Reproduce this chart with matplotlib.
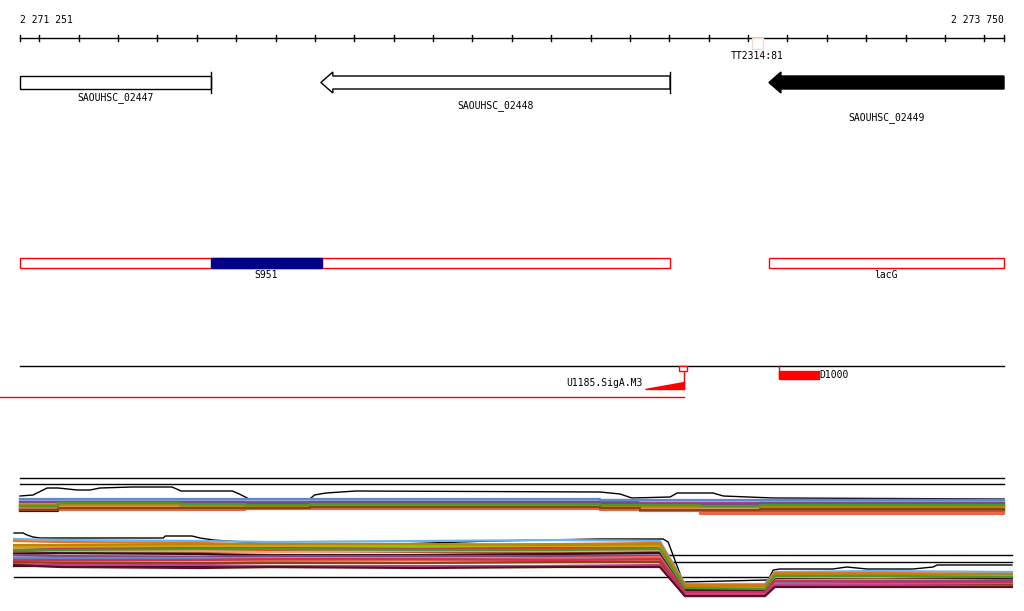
import matplotlib
matplotlib.use("Agg")
import matplotlib.pyplot as plt
from matplotlib.patches import Polygon, Rectangle

# ---- data ---------------------------------------------------------------
VIEW_START, VIEW_END = 2271251, 2273750
RULER_TICKS = list(range(2271300, 2273701, 100))

GENE_NAMES = ['SAOUHSC_02447', 'SAOUHSC_02448', 'SAOUHSC_02449']
GENE_START = [2271251, 2272015, 2273153]
GENE_END = [2271736, 2272902, 2273750]
GENE_STRAND = ['+', '-', '-']
GENE_FILLED = [False, False, True]
GENE_LABEL_Y = [98, 106, 118]

REGION_NAMES = ['S951', 'lacG']
REGION_START = [2271251, 2273153]
REGION_END = [2272902, 2273750]
S951_START, S951_END = 2271736, 2272018

TERM_NAME, TERM_START, TERM_END = 'TT2314:81', 2273110, 2273138
PROM_NAME, PROM_START, PROM_END = 'U1185.SigA.M3', 2272838, 2272937
TSS_NAME, TSS_START, TSS_END = 'D1000', 2273179, 2273280

# expression profiles, top panel (forward strand)
TOP_X = [2271251, 2271348, 2271657, 2271822, 2271987, 2272724, 2272826,
         2272978, 2273130, 2273750]
TOP_ENV_X = [2271251, 2271284, 2271320, 2271348, 2271396, 2271429, 2271454,
             2271536, 2271637, 2271660, 2271790, 2271808, 2271833, 2271987,
             2271999, 2272028, 2272104, 2272724, 2272775, 2272805, 2272902,
             2272920, 2273011, 2273037, 2273164, 2273750]
TOP_ENV = [24, 25, 32, 32, 30, 30, 32, 33, 33, 29, 29, 26, 21, 21, 25, 27,
           29, 28, 26, 22, 23, 27, 27, 24, 22, 21]
TOP_REF = [42, 36]
TOP_PROFILES = [
    [19, 20, 20, 19, 19, 19, 18, 18, 19, 19],
    [12, 14, 15, 16, 15, 15, 13, 12, 13, 13],
    [15, 17, 18, 17, 17, 17, 16, 10, 11, 12],
    [13, 16, 17, 16, 16, 16, 14, 15, 14, 14],
    [17, 16, 17, 18, 17, 18, 17, 17, 16, 16],
    [10, 13, 14, 14, 15, 14, 12, 9, 10, 10],
    [11, 12, 13, 13, 14, 13, 11, 8, 8, 9],
    [20, 19, 19, 20, 20, 20, 19, 19, 20, 19],
    [9, 14, 15, 15, 16, 15, 14, 13, 14, 13],
    [14, 13, 12, 13, 13, 12, 11, 11, 12, 11],
    [16, 15, 16, 15, 14, 16, 15, 14, 15, 15],
    [18, 18, 18, 17, 18, 17, 16, 16, 17, 17],
    [13, 11, 11, 12, 12, 11, 10, 7, 7, 8],
    [21, 21, 21, 21, 21, 20, 20, 20, 20, 20],
    [15, 15, 14, 14, 15, 14, 13, 13, 13, 14],
    [11, 10, 10, 11, 11, 10, 9, 6, 6, 7],
    [14, 17, 16, 15, 16, 15, 15, 14, 15, 15],
    [10, 12, 12, 12, 13, 12, 10, 10, 11, 10],
]

# expression profiles, bottom panel (reverse strand)
BOT_X = [2271236, 2271353, 2271708, 2271886, 2272267, 2272622, 2272876,
         2272940, 2273143, 2273168, 2273435, 2273770]
BOT_ENV_X = [2271236, 2271259, 2271269, 2271284, 2271302, 2271615, 2271620,
             2271688, 2271708, 2271742, 2271777, 2271818, 2271861, 2271879,
             2272216, 2272445, 2272724, 2272884, 2272897, 2272935, 2273151,
             2273164, 2273181, 2273315, 2273351, 2273402, 2273519, 2273570,
             2273580, 2273770]
BOT_ENV = [67, 67, 65, 63, 62, 62, 64, 64, 62, 60, 59, 58, 57, 56, 56, 59,
           61, 61, 58, 18, 20, 30, 31, 31, 33, 31, 31, 33, 35, 35]
BOT_REF = [45, 38, 23]
BOT_PROFILES = [
    [61, 60, 59, 58, 59, 60, 59, 16, 16, 28, 29, 28],
    [59, 58, 57, 55, 55, 56, 57, 15, 15, 27, 27, 26],
    [54, 53, 52, 51, 52, 53, 54, 12, 12, 24, 24, 23],
    [52, 52, 54, 53, 53, 54, 55, 13, 13, 26, 25, 25],
    [50, 51, 52, 52, 51, 52, 52, 11, 10, 23, 22, 23],
    [48, 47, 48, 49, 48, 47, 48, 10, 10, 21, 22, 21],
    [49, 50, 50, 50, 50, 51, 52, 14, 14, 25, 25, 24],
    [43, 44, 44, 43, 43, 44, 45, 9, 9, 20, 20, 19],
    [46, 47, 46, 45, 45, 46, 47, 10, 10, 22, 23, 22],
    [51, 49, 49, 48, 49, 49, 50, 12, 12, 23, 23, 24],
    [53, 54, 54, 54, 55, 54, 54, 13, 13, 25, 26, 25],
    [45, 44, 43, 44, 44, 44, 44, 8, 8, 19, 19, 19],
    [41, 41, 42, 41, 41, 42, 43, 7, 7, 18, 18, 17],
    [42, 42, 41, 40, 40, 40, 41, 7, 6, 18, 17, 17],
    [55, 55, 56, 56, 56, 55, 56, 14, 14, 26, 26, 26],
    [39, 39, 40, 39, 40, 39, 40, 6, 6, 16, 16, 16],
    [50, 50, 51, 51, 50, 50, 51, 12, 11, 24, 24, 23],
    [38, 37, 37, 37, 37, 38, 38, 5, 5, 15, 15, 15],
    [34, 34, 33, 33, 33, 34, 34, 4, 4, 14, 14, 14],
    [36, 35, 35, 34, 34, 34, 35, 5, 5, 15, 15, 14],
    [35, 33, 32, 33, 32, 33, 33, 4, 4, 13, 13, 13],
    [40, 40, 40, 41, 41, 40, 41, 8, 8, 19, 18, 18],
]

PROFILE_COLORS = ['#6ab4f0', '#e8741e', '#8c8c14', '#66dd00', '#c8287c',
                  '#a0522d', '#e03c28', '#a8a8d8', '#3c0a1e', '#f0a070',
                  '#d4a010', '#7a4a8a', '#ff6347', '#5a8ad0', '#b8860b',
                  '#dc6a50', '#4a9a2a', '#8b4513', '#300018', '#c04090',
                  '#5a1020', '#d03050']

# ---- layout ---------------------------------------------------------------
W, H = 1024, 611
BP_PER_PX = (VIEW_END - VIEW_START) / 984.0
XLIM = (VIEW_START - 20 * BP_PER_PX, VIEW_END + 20 * BP_PER_PX)
FONT = dict(family='DejaVu Sans Mono', fontsize=7, color='black')

fig = plt.figure(figsize=(W / 100, H / 100), dpi=100)
ax = fig.add_axes([0, 0, 1, 1])
ax.set_xlim(*XLIM)
ax.set_ylim(H, 0)
ax.axis('off')

# ruler
ax.plot([VIEW_START, VIEW_END], [38, 38], color='black', lw=1)
for t in [VIEW_START] + RULER_TICKS + [VIEW_END]:
    ax.plot([t, t], [35, 41], color='black', lw=1)
ax.text(VIEW_START, 20, f"{VIEW_START:,}".replace(',', ' '), ha='left', va='center', **FONT)
ax.text(VIEW_END, 20, f"{VIEW_END:,}".replace(',', ' '), ha='right', va='center', **FONT)
ax.add_patch(Rectangle((TERM_START, 38), TERM_END - TERM_START, 11,
                       facecolor='white', edgecolor='#f8d8d0', lw=1, zorder=3))
ax.text((TERM_START + TERM_END) / 2, 56, TERM_NAME, ha='center', va='center', **FONT)

# genes
head = 12 * BP_PER_PX
for name, s, e, strand, filled, ly in zip(GENE_NAMES, GENE_START, GENE_END,
                                          GENE_STRAND, GENE_FILLED, GENE_LABEL_Y):
    fc = 'black' if filled else 'white'
    if strand == '-':
        pts = [(s, 82.5), (s + head, 72), (s + head, 76), (e, 76), (e, 89),
               (s + head, 89), (s + head, 93)]
        ax.add_patch(Polygon(pts, closed=True, facecolor=fc, edgecolor='black', lw=1))
        if not filled:
            ax.plot([e, e], [72, 93], color='black', lw=1)
    else:
        ax.add_patch(Rectangle((s, 76), e - s, 13, facecolor=fc, edgecolor='black', lw=1))
        ax.plot([e, e], [72, 93], color='black', lw=1)
    ax.text((s + e) / 2, ly, name, ha='center', va='center', **FONT)

# regions
for name, s, e in zip(REGION_NAMES, REGION_START, REGION_END):
    ax.add_patch(Rectangle((s, 258), e - s, 10, facecolor='white', edgecolor='red', lw=1))
ax.add_patch(Rectangle((S951_START, 258), S951_END - S951_START, 10,
                       facecolor='#00008b', edgecolor='#00008b', lw=1))
ax.text((S951_START + S951_END) / 2, 275, 'S951', ha='center', va='center', **FONT)
ax.text((REGION_START[1] + REGION_END[1]) / 2, 275, 'lacG', ha='center', va='center', **FONT)

# promoters / TSS track
ax.plot([VIEW_START, VIEW_END], [366, 366], color='black', lw=1)
ax.plot([XLIM[0], PROM_END], [397, 397], color='red', lw=1)
ax.add_patch(Rectangle((PROM_END - 5 * BP_PER_PX, 366), 8 * BP_PER_PX, 5,
                       facecolor='white', edgecolor='red', lw=1, zorder=3))
ax.plot([PROM_END, PROM_END], [371, 389], color='red', lw=1)
ax.add_patch(Polygon([(PROM_START, 389), (PROM_END, 389), (PROM_END, 382)],
                     closed=True, facecolor='red', edgecolor='red', lw=1))
ax.text(PROM_START - 2 * BP_PER_PX, 383, PROM_NAME, ha='right', va='center', **FONT)
ax.plot([TSS_START, TSS_START], [366, 377], color='red', lw=1)
ax.add_patch(Rectangle((TSS_START, 371), TSS_END - TSS_START, 8,
                       facecolor='red', edgecolor='red', lw=1))
ax.text(TSS_END, 375, TSS_NAME, ha='left', va='center', **FONT)

# expression panels
top = fig.add_axes([0, (H - 520) / H, 1, 46 / H])
top.set_xlim(*XLIM)
top.set_ylim(0, 46)
top.axis('off')
for v in TOP_REF:
    top.plot([VIEW_START, VIEW_END], [v, v], color='black', lw=1)
top.plot(TOP_ENV_X, TOP_ENV, color='black', lw=1)
for vals, c in zip(TOP_PROFILES, PROFILE_COLORS):
    top.plot(TOP_X, vals, color=c, lw=1.6, drawstyle='steps-post')

bot = fig.add_axes([0, (H - 600) / H, 1, 72 / H])
bot.set_xlim(*XLIM)
bot.set_ylim(0, 72)
bot.axis('off')
for v in BOT_REF:
    bot.plot([BOT_X[0], BOT_X[-1]], [v, v], color='black', lw=1)
bot.plot(BOT_ENV_X, BOT_ENV, color='black', lw=1)
for vals, c in zip(BOT_PROFILES, PROFILE_COLORS):
    bot.plot(BOT_X, vals, color=c, lw=1.6)

fig.savefig('out.png', dpi=100)
